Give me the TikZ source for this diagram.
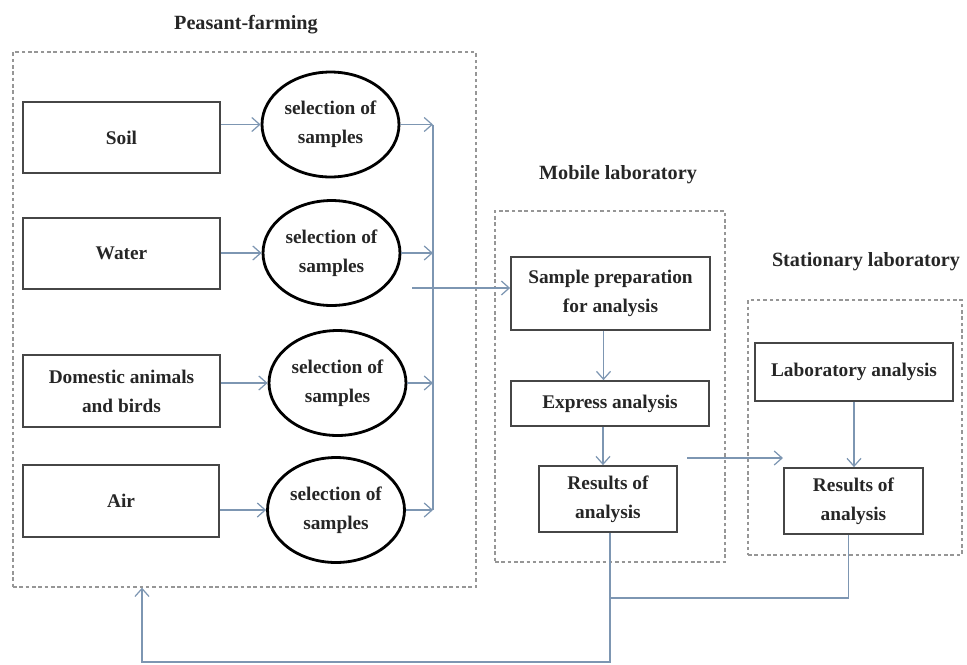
\documentclass[tikz,border=0pt]{standalone}
\usepackage{fontspec}
\setmainfont{Liberation Serif}
\usetikzlibrary{arrows.meta,shapes.geometric}
\definecolor{conn}{RGB}{125,150,178}
\definecolor{boxline}{RGB}{70,70,70}
\definecolor{frameline}{RGB}{150,150,150}
\tikzset{
  every node/.style={font=\fontsize{11}{16.5}\selectfont\bfseries, text=black!85, align=center, inner sep=0pt},
  srcbox/.style={draw=boxline, line width=1pt, rectangle},
  sampleell/.style={draw=black, line width=1.6pt, ellipse, minimum width=2.74cm, minimum height=2.1cm},
  frame/.style={draw=frameline, line width=0.8pt, dash pattern=on 2pt off 1.6pt, rectangle},
  title/.style={font=\fontsize{11.5}{14}\selectfont\bfseries},
  link/.style={draw=conn, line width=0.7pt},
  arr/.style={link, -{Straight Barb[length=4.5pt,width=8pt]}}
}
\begin{document}
\begin{tikzpicture}[x=0.02cm,y=-0.02cm]
\useasboundingbox (0,0) rectangle (967,664);
% frames
\node[frame, minimum width=9.26cm, minimum height=10.7cm] (peas) at (244.5,319.5) {};
\node[frame, minimum width=4.6cm, minimum height=7.02cm] (mob) at (610,386.5) {};
\node[frame, minimum width=4.28cm, minimum height=5.1cm] (stat) at (855,427.5) {};
% titles
\node[title] (tpeas) at (246,25) {Peasant-farming};
\node[title] (tmob) at (618,175) {Mobile laboratory};
\node[title] (tstat) at (866,262) {Stationary laboratory};
% source boxes
\node[srcbox, minimum width=3.94cm, minimum height=1.42cm] (soil) at (121.5,137.5) {Soil};
\node[srcbox, minimum width=3.94cm, minimum height=1.42cm] (water) at (121.5,253.5) {Water};
\node[srcbox, minimum width=3.94cm, minimum height=1.44cm] (dom) at (121.5,391) {Domestic animals\\and birds};
\node[srcbox, minimum width=3.92cm, minimum height=1.44cm] (air) at (121,501) {Air};
% ellipses
\node[sampleell] (e1) at (330.5,124.5) {selection of\\samples};
\node[sampleell] (e2) at (331.5,253) {selection of\\samples};
\node[sampleell] (e3) at (337.5,383) {selection of\\samples};
\node[sampleell] (e4) at (336,510) {selection of\\samples};
% mobile lab
\node[srcbox, minimum width=3.98cm, minimum height=1.46cm] (prep) at (610.5,293.5) {Sample preparation\\for analysis};
\node[srcbox, minimum width=3.96cm, minimum height=0.9cm] (expr) at (610,403.5) {Express analysis};
\node[srcbox, minimum width=2.76cm, minimum height=1.32cm] (mres) at (608,499) {Results of\\analysis};
% stationary lab
\node[srcbox, minimum width=3.96cm, minimum height=1.16cm] (lab) at (854,372) {Laboratory analysis};
\node[srcbox, minimum width=2.78cm, minimum height=1.32cm] (sres) at (853.5,501) {Results of\\analysis};
% coordinates
\coordinate (bus) at (433,0);
\coordinate (feedin) at (412,288);
\coordinate (m2sa) at (687,458);
\coordinate (m2sb) at (783,458);
\coordinate (joiny) at (0,598);
\coordinate (bottom) at (142,662);
% box -> ellipse
\draw[arr] (e1.west -| soil.east) -- (e1.west);
\draw[arr] (e2.west -| water.east) -- (e2.west);
\draw[arr] (e3.west -| dom.east) -- (e3.west);
\draw[arr] (e4.west -| air.east) -- (e4.west);
% ellipse -> bus
\draw[arr] (e1.east) -- (e1.east -| bus);
\draw[arr] (e2.east) -- (e2.east -| bus);
\draw[arr] (e3.east) -- (e3.east -| bus);
\draw[arr] (e4.east) -- (e4.east -| bus);
\draw[link] (e1.east -| bus) -- (e4.east -| bus);
% to mobile
\draw[arr] (feedin) -- (feedin -| prep.west);
\draw[arr] ([xshift=-7*0.02cm]prep.south) -- ([xshift=-7*0.02cm]prep.south |- expr.north);
\draw[arr] ([xshift=-7*0.02cm]expr.south) -- ([xshift=-7*0.02cm]expr.south |- mres.north);
% mobile -> stationary
\draw[arr] (m2sa) -- (m2sb);
\draw[arr] (lab.south) -- (lab.south |- sres.north);
% feedback
\draw[link] ([xshift=-5*0.02cm]sres.south) |- ([xshift=2*0.02cm]joiny -| mres.south);
\draw[arr] ([xshift=2*0.02cm]mres.south) |- (bottom) -- (bottom |- peas.south);
\end{tikzpicture}
\end{document}
